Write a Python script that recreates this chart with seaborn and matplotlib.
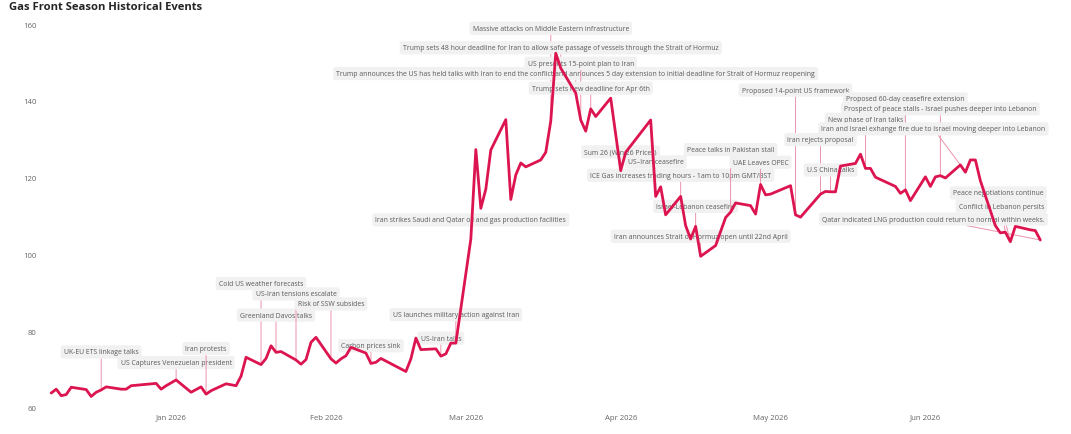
import matplotlib
matplotlib.use("Agg")
import matplotlib.pyplot as plt
import matplotlib.dates as mdates
import pandas as pd
import seaborn as sns

# ---------------- data ----------------
dates = [
    "2025-12-08", "2025-12-09", "2025-12-10", "2025-12-11", "2025-12-12",
    "2025-12-15", "2025-12-16", "2025-12-17", "2025-12-18", "2025-12-19",
    "2025-12-22", "2025-12-23", "2025-12-24", "2025-12-29", "2025-12-30",
    "2025-12-31", "2026-01-02", "2026-01-05", "2026-01-07", "2026-01-08",
    "2026-01-09", "2026-01-12", "2026-01-14", "2026-01-15", "2026-01-16",
    "2026-01-19", "2026-01-20", "2026-01-21", "2026-01-22", "2026-01-23",
    "2026-01-26", "2026-01-27", "2026-01-28", "2026-01-29", "2026-01-30",
    "2026-02-02", "2026-02-03", "2026-02-04", "2026-02-05", "2026-02-06",
    "2026-02-09", "2026-02-10", "2026-02-11", "2026-02-12", "2026-02-17",
    "2026-02-18", "2026-02-19", "2026-02-20", "2026-02-23", "2026-02-24",
    "2026-02-25", "2026-02-26", "2026-02-27", "2026-03-02", "2026-03-03",
    "2026-03-04", "2026-03-05", "2026-03-06", "2026-03-09", "2026-03-10",
    "2026-03-11", "2026-03-12", "2026-03-13", "2026-03-16", "2026-03-17",
    "2026-03-18", "2026-03-19", "2026-03-20", "2026-03-23", "2026-03-24",
    "2026-03-25", "2026-03-26", "2026-03-27", "2026-03-30", "2026-04-01",
    "2026-04-02", "2026-04-07", "2026-04-08", "2026-04-09", "2026-04-10",
    "2026-04-13", "2026-04-14", "2026-04-15", "2026-04-16", "2026-04-17",
    "2026-04-20", "2026-04-22", "2026-04-23", "2026-04-24", "2026-04-27",
    "2026-04-28", "2026-04-29", "2026-04-30", "2026-05-01", "2026-05-05",
    "2026-05-06", "2026-05-07", "2026-05-11", "2026-05-12", "2026-05-13",
    "2026-05-14", "2026-05-15", "2026-05-18", "2026-05-19", "2026-05-20",
    "2026-05-21", "2026-05-22", "2026-05-26", "2026-05-27", "2026-05-28",
    "2026-05-29", "2026-06-01", "2026-06-02", "2026-06-03", "2026-06-04",
    "2026-06-05", "2026-06-08", "2026-06-09", "2026-06-10", "2026-06-11",
    "2026-06-12", "2026-06-15", "2026-06-16", "2026-06-17", "2026-06-18",
    "2026-06-19", "2026-06-22", "2026-06-23", "2026-06-24",
]
prices = [
    63.9, 64.9, 63.2, 63.5, 65.4,
    64.8, 63.0, 64.1, 64.7, 65.5,
    64.9, 64.9, 65.8, 66.4, 64.9,
    65.8, 67.3, 64.1, 65.5, 63.6,
    64.5, 66.3, 65.8, 68.3, 73.2,
    71.3, 72.9, 76.2, 74.5, 74.7,
    72.5, 71.4, 72.6, 77.1, 78.4,
    72.8, 71.7, 72.8, 73.6, 75.8,
    74.3, 71.6, 71.9, 72.9, 69.5,
    72.8, 78.2, 75.2, 75.4, 73.5,
    74.1, 76.9, 76.9, 104.0, 127.3,
    112.0, 117.0, 127.2, 135.1, 114.3,
    120.7, 123.8, 122.8, 124.6, 126.6,
    134.7, 152.4, 148.5, 142.0, 135.0,
    132.1, 137.9, 135.9, 140.7, 121.8,
    126.6, 135.0, 115.1, 117.6, 110.3,
    115.1, 107.5, 104.0, 107.3, 99.5,
    102.3, 109.6, 111.0, 113.4, 112.7,
    110.5, 118.2, 115.5, 115.7, 117.9,
    110.3, 109.7, 115.7, 116.4, 116.3,
    116.3, 123.0, 123.7, 126.1, 122.4,
    122.4, 120.1, 117.7, 115.9, 116.8,
    114.0, 120.2, 117.7, 120.2, 120.5,
    119.9, 123.3, 121.4, 124.6, 124.6,
    119.2, 107.5, 105.6, 105.8, 103.3,
    107.3, 106.4, 106.2, 103.75,
]

event_labels = [
    "UK-EU ETS linkage talks",
    "US Captures Venezuelan president",
    "Iran protests",
    "Cold US weather forecasts",
    "Greenland Davos talks",
    "US-Iran tensions escalate",
    "Risk of SSW subsides",
    "Carbon prices sink",
    "US-Iran talks",
    "US launches military action against Iran",
    "Iran strikes Saudi and Qatar oil and gas production facilities",
    "Massive attacks on Middle Eastern infrastructure",
    "Trump sets 48 hour deadline for Iran to allow safe passage of vessels through the Strait of Hormuz",
    "Trump announces the US has held talks with Iran to end the conflict and announces 5 day extension to initial deadline for Strait of Hormuz reopening",
    "US presents 15-point plan to Iran",
    "Trump sets new deadline for Apr 6th",
    "Sum 26 (Win 26 Prices)",
    "US\u2013Iran ceasefire",
    "ICE Gas increases trading hours - 1am to 10pm GMT/BST",
    "Israel-Lebanon ceasefire",
    "Iran announces Strait of Hormuz open until 22nd April",
    "Peace talks in Pakistan stall",
    "UAE Leaves OPEC",
    "Proposed 14-point US framework",
    "Iran rejects proposal",
    "U.S China talks",
    "New phase of Iran talks",
    "Proposed 60-day ceasefire extension",
    "Prospect of peace stalls - Israel pushes deeper into Lebanon",
    "Iran and Israel exhange fire due to Israel moving deeper into Lebanon",
    "Peace negotiations continue",
    "Conflict in Lebanon persits",
    "Qatar indicated LNG production could return to normal within weeks.",
]
event_dates = [
    "2025-12-18", "2026-01-02", "2026-01-08", "2026-01-19", "2026-01-22",
    "2026-01-26", "2026-02-02", "2026-02-10", "2026-02-24", "2026-02-27",
    "2026-03-02", "2026-03-18", "2026-03-20", "2026-03-23", "2026-03-24",
    "2026-03-26", "2026-04-01", "2026-04-08", "2026-04-13", "2026-04-16",
    "2026-04-17", "2026-04-23", "2026-04-29", "2026-05-06", "2026-05-11",
    "2026-05-13", "2026-05-20", "2026-05-28", "2026-06-04", "2026-06-08",
    "2026-06-18", "2026-06-17", "2026-06-24",
]

# ---------------- layout (label placement) ----------------
label_y = [
    74.6, 71.8, 75.5, 92.4, 84.2,
    89.7, 87.1, 76.2, 78.2, 84.3,
    109.0, 158.9, 153.8, 147.1, 149.8,
    143.3, 126.7, 124.1, 120.6, 112.5,
    104.7, 127.3, 124.0, 142.8, 129.9,
    122.0, 135.2, 140.5, 137.9, 132.7,
    116.0, 112.6, 109.2,
]
label_dx_days = [0] * len(event_labels)
label_dx_days[29] = -5.4
label_dx_days[30] = -2.4
label_dx_days[31] = -0.8
label_dx_days[32] = -21.4

LINE_COLOR = "#DC1450"
LEADER_COLOR = "#EC93AB"
TEXT_COLOR = "#5A5A5A"
BOX_COLOR = "#F1F1F1"

sns.set_theme(style="white")
plt.rcParams["font.family"] = ["Open Sans", "DejaVu Sans"]

df = pd.DataFrame({"date": pd.to_datetime(dates), "price": prices})
lookup = dict(zip(df["date"], df["price"]))

fig = plt.figure(figsize=(10.71, 4.35), dpi=100)
ax = fig.add_axes([0.042, 0.0598, 0.948, 0.8827])

sns.lineplot(data=df, x="date", y="price", ax=ax, color=LINE_COLOR,
             linewidth=2.0, zorder=5)

for lab, d, ly, dx in zip(event_labels, event_dates, label_y, label_dx_days):
    dt = pd.Timestamp(d)
    yv = lookup[dt]
    tx = dt + pd.Timedelta(days=dx)
    ax.annotate(
        lab, xy=(dt, yv), xytext=(tx, ly), ha="center", va="center",
        fontsize=4.95, color=TEXT_COLOR, zorder=3,
        bbox=dict(boxstyle="round,pad=0.45,rounding_size=0.35",
                  facecolor=BOX_COLOR, edgecolor="none"),
        arrowprops=dict(arrowstyle="-", color=LEADER_COLOR, lw=0.7,
                        shrinkA=0, shrinkB=0),
    )

ax.set_ylim(60, 160)
ax.set_yticks([60, 80, 100, 120, 140, 160])
ax.set_xlim(pd.Timestamp("2025-12-06 18:00"), pd.Timestamp("2026-06-28"))
ax.xaxis.set_major_locator(mdates.MonthLocator(bymonth=[1, 2, 3, 4, 5, 6]))
ax.xaxis.set_major_formatter(mdates.DateFormatter("%b %Y"))
ax.tick_params(axis="both", length=0, labelsize=5.6, labelcolor="#666666")
ax.tick_params(axis="y", pad=6)
ax.tick_params(axis="x", pad=4)
ax.set_xlabel("")
ax.set_ylabel("")
ax.grid(False)
for s in ax.spines.values():
    s.set_visible(False)

fig.text(0.008, 0.982, "Gas Front Season Historical Events", fontsize=8.1,
         fontweight="bold", color="#252525", ha="left", va="center")

fig.savefig("out.png", dpi=100)
